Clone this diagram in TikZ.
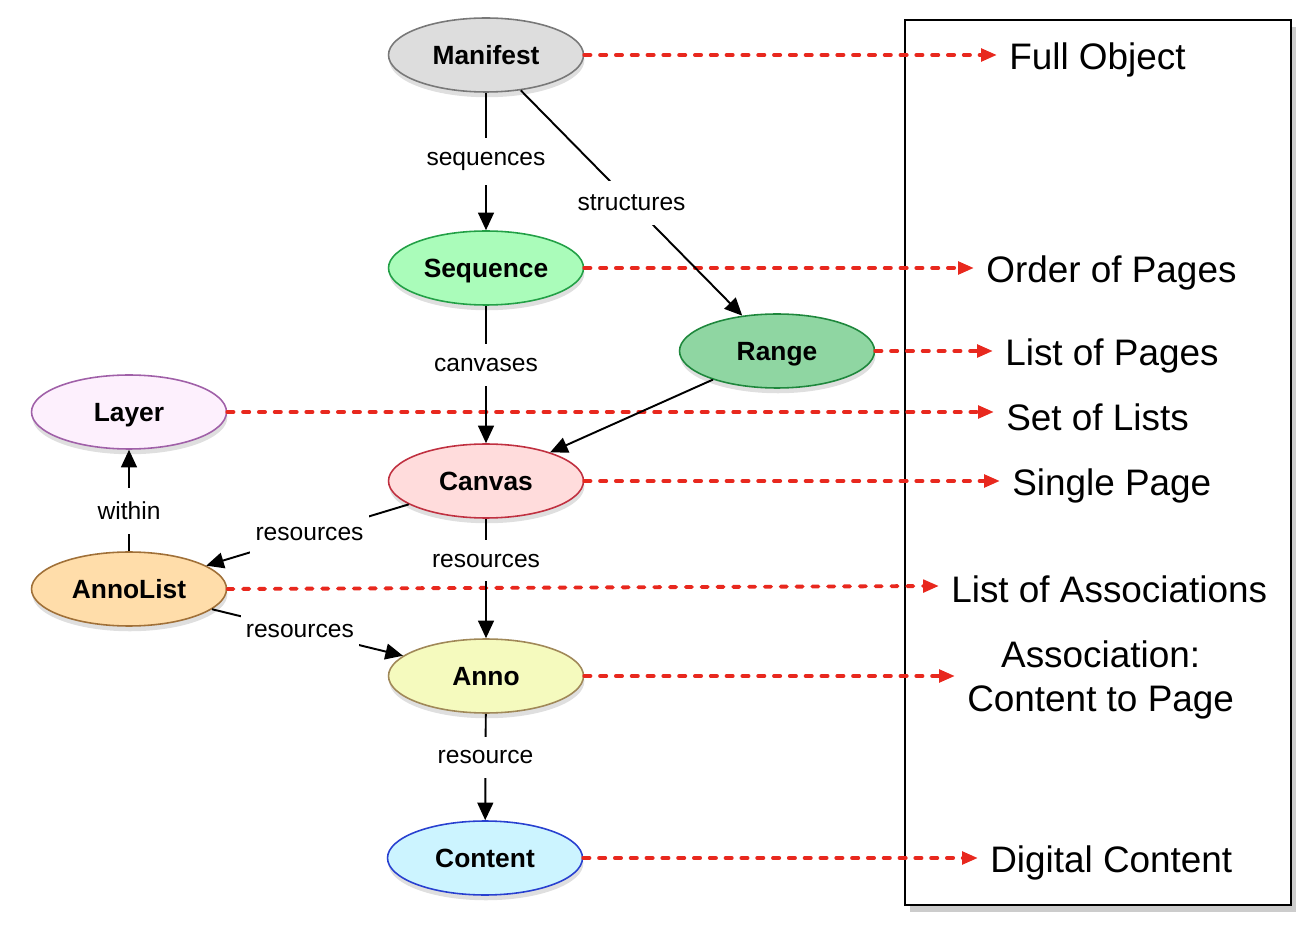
\documentclass[tikz,border=0pt]{standalone}
\usepackage{fontspec}
\setmainfont{Liberation Sans}
\usetikzlibrary{shapes.geometric,arrows.meta,shadows}
\definecolor{redline}{HTML}{E8281E}
\tikzset{
  obj/.style={ellipse, draw, line width=0.9pt, minimum width=3.9cm, minimum height=1.48cm, inner sep=0pt,
    text height=13.7pt, text depth=3pt,
    font=\fontsize{15}{18}\selectfont\bfseries, drop shadow={opacity=0.25, shadow xshift=0.5pt, shadow yshift=-3pt}},
  rel/.style={line width=1.1pt, -{Triangle[length=10pt,width=9pt]}},
  lbl/.style={fill=white, inner xsep=3pt, inner ysep=8pt, font=\fontsize{14}{16}\selectfont},
  meaning/.style={anchor=west, inner xsep=6.8pt, font=\fontsize{21}{25}\selectfont},
  map/.style={redline, line width=2.2pt, line cap=round, dash pattern=on 3.5pt off 5.5pt,
    -{Triangle[length=9pt,width=7pt,line cap=butt]}},
}
\begin{document}
\begin{tikzpicture}[x=0.02cm,y=-0.02cm]
\useasboundingbox (0,0) rectangle (1312,935);
% right box
\draw[line width=1.3pt, fill=white, drop shadow={opacity=0.4, shadow xshift=3pt, shadow yshift=-4pt}] (905,20) rectangle (1291,905);
% nodes
\node[obj, fill={rgb,255:red,221;green,221;blue,221}, draw={rgb,255:red,120;green,120;blue,120}] (manifest) at (486,55) {Manifest};
\node[obj, fill={rgb,255:red,170;green,252;blue,186}, draw={rgb,255:red,34;green,160;blue,70}] (sequence) at (486,268) {Sequence};
\node[obj, fill={rgb,255:red,143;green,214;blue,162}, draw={rgb,255:red,30;green,135;blue,60}] (range) at (777,351) {Range};
\node[obj, fill={rgb,255:red,253;green,240;blue,253}, draw={rgb,255:red,160;green,96;blue,168}] (layer) at (129,412) {Layer};
\node[obj, fill={rgb,255:red,255;green,220;blue,220}, draw={rgb,255:red,192;green,48;blue,64}] (canvas) at (486,481) {Canvas};
\node[obj, fill={rgb,255:red,255;green,221;blue,170}, draw={rgb,255:red,160;green,112;blue,56}] (annolist) at (129,589) {AnnoList};
\node[obj, fill={rgb,255:red,245;green,250;blue,190}, draw={rgb,255:red,160;green,136;blue,88}] (anno) at (486,676) {Anno};
\node[obj, fill={rgb,255:red,204;green,244;blue,255}, draw={rgb,255:red,40;green,64;blue,208}] (content) at (485,858) {Content};
% meanings
\node[meaning] (full) at (997,60) {Full Object};
\node[meaning] (order) at (974,273) {Order of Pages};
\node[meaning] (lpages) at (993,356) {List of Pages};
\node[meaning] (sets) at (994,417) {Set of Lists};
\node[meaning] (single) at (1000,486) {Single Page};
\node[meaning] (alist) at (939,589) {List of Associations};
\node[meaning, align=center] (assoc) at (955,680) {Association:\\Content to Page};
\node[meaning] (digital) at (978,863) {Digital Content};
% red mappings
\draw[map] (manifest.east) -- (manifest.east -| full.west);
\draw[map] (sequence.east) -- (sequence.east -| order.west);
\draw[map] (range.east) -- (range.east -| lpages.west);
\draw[map] (layer.east) -- (layer.east -| sets.west);
\draw[map] (canvas.east) -- (canvas.east -| single.west);
\draw[map] (annolist.east) -- ([yshift=0.06cm]alist.west);
\draw[map] (anno.east) -- (anno.east -| assoc.west);
\draw[map] (content.east) -- (content.east -| digital.west);
% relations
\draw[rel] (manifest) -- node[lbl, pos=0.5] {sequences} (sequence);
\draw[rel] (manifest) -- node[lbl, pos=0.5] {structures} (range);
\draw[rel] (sequence) -- node[lbl, pos=0.43] {canvases} (canvas);
\draw[rel] (range) -- (canvas);
\draw[rel] (canvas) -- node[lbl, pos=0.49] {resources} (annolist);
\draw[rel] (canvas) -- node[lbl, pos=0.35] {resources} (anno);
\draw[rel] (annolist) -- node[lbl, pos=0.46] {resources} (anno);
\draw[rel] (annolist) -- node[lbl, pos=0.4] {within} (layer);
\draw[rel] (anno) -- node[lbl, pos=0.41] {resource} (content);
\end{tikzpicture}
\end{document}
